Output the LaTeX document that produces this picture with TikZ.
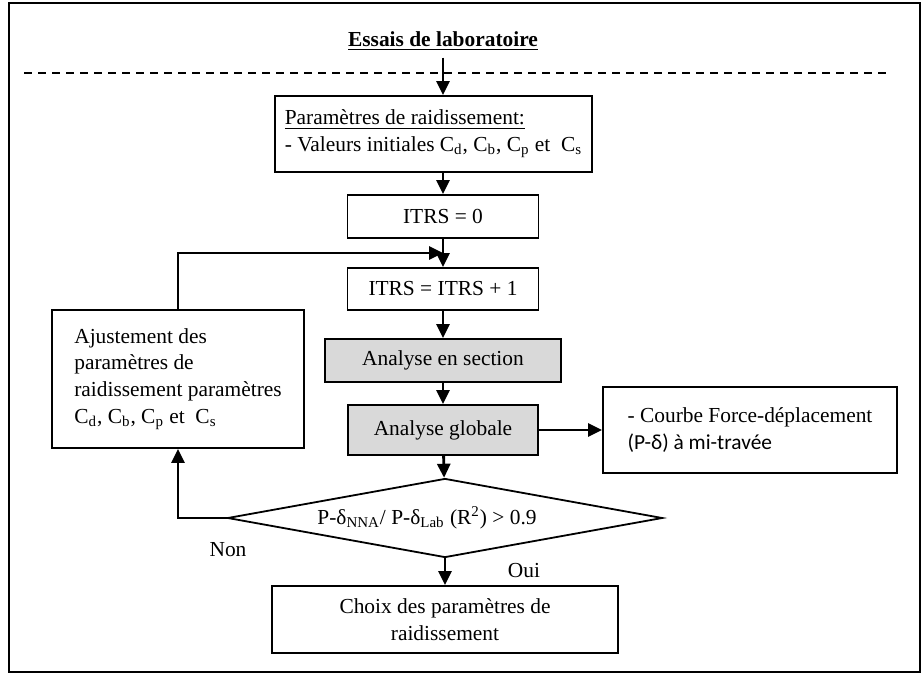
\documentclass[tikz,border=0pt]{standalone}
\usepackage{fontspec}
\setmainfont{Liberation Serif}
\newfontfamily\calibfont{Carlito}
\usetikzlibrary{shapes.geometric,arrows.meta}

\begin{document}
\begin{tikzpicture}[x=0.5pt,y=-0.5pt,
  font=\fontsize{10.7pt}{13.3pt}\selectfont,
  procbox/.style={draw,line width=0.9pt,inner sep=4pt,align=center},
  greybox/.style={procbox,fill=black!15},
  decision/.style={draw,line width=0.9pt,diamond,aspect=5.5,inner sep=0pt,minimum width=217.5pt,minimum height=39.5pt},
  flow/.style={line width=1.4pt,-{Triangle[length=7pt,width=6.5pt]}}]
\useasboundingbox (0,0) rectangle (922,675);

% Frame and separator
\draw[line width=0.9pt] (9,3) rectangle (920,672);
\draw[line width=1.2pt,dash pattern=on 4pt off 3pt] (24,73) -- (887,73);

% Main column
\node (title) at (443,41) {\textbf{\underline{Essais de laboratoire}}};
\node[procbox,align=left,minimum width=158.5pt,minimum height=38pt] (param) at (433.5,134)
  {\underline{Paramètres de raidissement:}\\- Valeurs initiales C\textsubscript{d}, C\textsubscript{b}, C\textsubscript{p} et~ C\textsubscript{s}};
\node[procbox,minimum width=95.5pt,minimum height=21.5pt] (itrs0) at (443,216.5) {ITRS = 0};
\node[procbox,minimum width=95.5pt,minimum height=21pt] (itrs1) at (443,289) {ITRS = ITRS + 1};
\node[greybox,minimum width=118pt,minimum height=21.5pt] (section) at (443,360.5) {Analyse en section};
\node[greybox,minimum width=95pt,minimum height=25pt] (globale) at (443,430) {Analyse globale};
\node[decision] (cond) at (445,518) {P-δ\textsubscript{NNA}/ P-δ\textsubscript{Lab} (R\textsuperscript{2}) > 0.9\hspace*{18pt}};
\node[procbox,minimum width=173pt,minimum height=33.5pt] (choix) at (445,619.5) {Choix des paramètres de\\raidissement};

% Side boxes
\node[procbox,align=left,minimum width=147pt,minimum height=43pt] (courbe) at (750,430)
  {- Courbe Force-déplacement\\{\calibfont (P-δ) à mi-travée}};
\node[procbox,align=left,minimum width=126pt,minimum height=69pt] (adj) at (178,379)
  {Ajustement des\\paramètres de\\raidissement paramètres\\C\textsubscript{d}, C\textsubscript{b}, C\textsubscript{p} et~ C\textsubscript{s}};

% Labels
\node (non) at (228,550) {Non};
\node (oui) at (524,571) {Oui};

% Connectors
\coordinate (join) at (443,253);
\draw[flow] (title.south) -- (title.south |- param.north);
\draw[flow] (itrs0.north |- param.south) -- (itrs0.north);
\draw[flow] (itrs0) -- (itrs1);
\draw[flow] (itrs1) -- (section);
\draw[flow] (section) -- (globale);
\draw[flow] (globale) -- (cond);
\draw[flow] (cond) -- (choix);
\draw[flow] (globale) -- (courbe);
\draw[flow] (cond.west) -| (adj.south);
\draw[flow] (adj.north) |- (join);
\end{tikzpicture}
\end{document}
